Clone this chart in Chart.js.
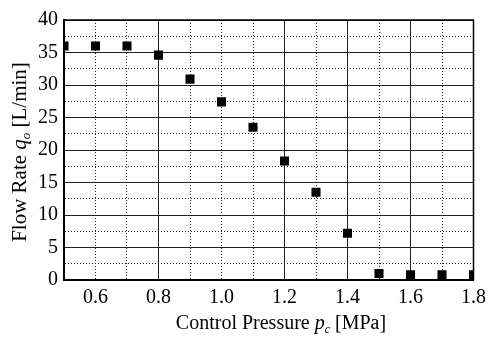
<!DOCTYPE html>
<html><head><meta charset="utf-8">
<script src="https://cdn.jsdelivr.net/npm/chart.js@4/dist/chart.umd.min.js"></script>
<style>html,body{margin:0;padding:0;background:#fff}#wrap{width:492px;height:337px;position:relative}</style>
</head><body><div id="wrap"><canvas id="c" width="492" height="337" style="width:492px;height:337px"></canvas></div>
<script>
const pressures = [0.5,0.6,0.7,0.8,0.9,1.0,1.1,1.2,1.3,1.4,1.5,1.6,1.7,1.8];
const flowRates = [36.0,36.0,36.0,34.6,30.9,27.4,23.5,18.3,13.5,7.2,1.0,0.8,0.8,0.8];
const xTickLabels = ['0.6','0.8','1.0','1.2','1.4','1.6','1.8'];
const yTickLabels = ['0','5','10','15','20','25','30','35','40'];
const xSolidGrid = [8,12,14,16];
const xTitleParts = [{t:'Control Pressure '},{t:'p',i:true},{t:'c',i:true,sub:true},{t:' [MPa]'}];
const yTitleParts = [{t:'Flow Rate '},{t:'q',i:true},{t:'o',i:true,sub:true},{t:' [L/min]'}];

const FONT = "'Liberation Serif','Times New Roman',serif";
const FS = 20;

function drawRich(ctx, parts, cx, cy, rot, fs){
  ctx.save();
  ctx.translate(cx, cy);
  if (rot) ctx.rotate(-Math.PI/2);
  const fontOf = p => (p.i?'italic ':'') + (p.sub? Math.round(fs*0.6):fs) + 'px ' + FONT;
  let w = 0;
  parts.forEach(p => { ctx.font = fontOf(p); w += ctx.measureText(p.t).width; });
  let x = -w/2;
  ctx.fillStyle = '#000';
  ctx.textBaseline = 'middle';
  parts.forEach(p => { ctx.font = fontOf(p); ctx.fillText(p.t, x, p.sub ? fs*0.3 : 0); x += ctx.measureText(p.t).width; });
  ctx.restore();
}

const titlesPlugin = {
  id:'titles',
  afterDraw(chart){
    const ctx = chart.ctx, a = chart.chartArea;
    drawRich(ctx, xTitleParts, 281, 324, false, 20);
    drawRich(ctx, yTitleParts, 20, 152, true, 21);
    ctx.save();
    ctx.strokeStyle='#000'; ctx.lineWidth=1.5;
    ctx.beginPath(); ctx.moveTo(a.left,a.top); ctx.lineTo(a.right,a.top); ctx.lineTo(a.right,a.bottom); ctx.stroke();
    ctx.restore();
  }
};

new Chart(document.getElementById('c'), {
  type:'scatter',
  data:{ datasets:[{
    data: pressures.map((p,i)=>({x:p,y:flowRates[i]})),
    pointStyle:'rect', pointRadius:6.4, pointHoverRadius:6.4, borderWidth:0,
    backgroundColor:'#000', clip:0
  }]},
  options:{
    responsive:false, animation:false, devicePixelRatio:1,
    layout:{padding:{left:0,top:20,right:14,bottom:0}},
    plugins:{legend:{display:false},tooltip:{enabled:false}},
    scales:{
      x:{ type:'linear', min:0.5, max:1.8,
        afterFit(s){ s.height = 57; },
        ticks:{ stepSize:0.1, autoSkip:false, maxRotation:0, padding:6, color:'#000',
          font:{family:FONT,size:FS},
          callback(v){ const k=Math.round(v*10); const s=(k/10).toFixed(1); return xTickLabels.includes(s)?s:''; } },
        grid:{ color:'#222', lineWidth:1, drawTicks:false },
        border:{ display:true, color:'#000', width:2,
          dash(ctx){ if(!ctx.tick) return []; const k=Math.round(ctx.tick.value*10); return (k===5||k===18||xSolidGrid.includes(k))?[]:[1,2]; } }
      },
      y:{ type:'linear', min:0, max:40,
        afterFit(s){ s.width = 64; },
        ticks:{ stepSize:2.5, autoSkip:false, padding:6, color:'#000',
          font:{family:FONT,size:FS},
          callback(v){ const s=String(v); return yTickLabels.includes(s)?s:''; } },
        grid:{ color:'#222', lineWidth:1, drawTicks:false },
        border:{ display:true, color:'#000', width:2,
          dash(ctx){ if(!ctx.tick) return []; return (ctx.tick.value%5===0)?[]:[1,2]; } }
      }
    }
  },
  plugins:[titlesPlugin]
});
</script></body></html>
